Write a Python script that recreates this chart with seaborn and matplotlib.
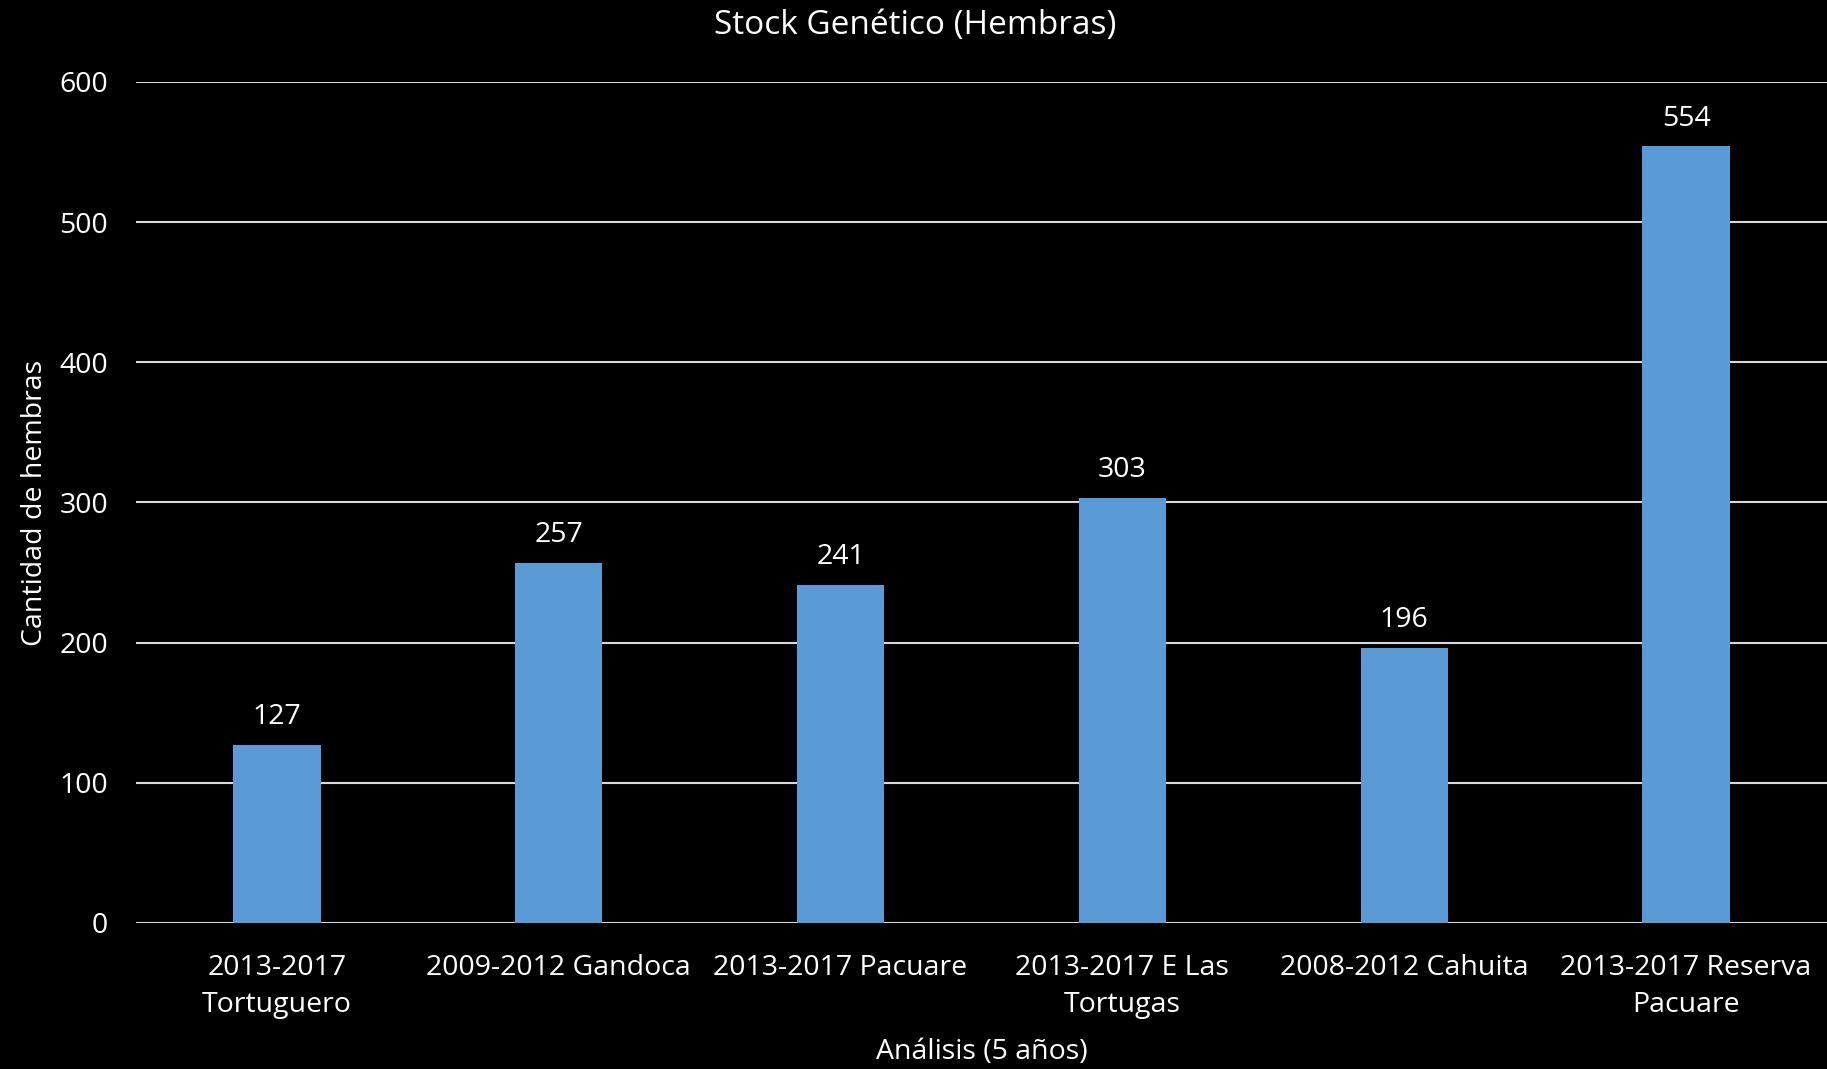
import matplotlib
matplotlib.use("Agg")
import matplotlib.pyplot as plt
import seaborn as sns
import pandas as pd

categories = ["2013-2017\nTortuguero", "2009-2012 Gandoca", "2013-2017 Pacuare",
              "2013-2017 E Las\nTortugas", "2008-2012 Cahuita", "2013-2017 Reserva\nPacuare"]
values = [127, 257, 241, 303, 196, 554]
yticks = [0, 100, 200, 300, 400, 500, 600]

sns.set_theme(style="dark")
plt.rcParams['font.family'] = ['Open Sans', 'DejaVu Sans']

df = pd.DataFrame({"cat": categories, "val": values})

fig = plt.figure(figsize=(18.27, 10.69), dpi=100, facecolor="black")
ax = fig.add_axes([0.0744, 0.1366, 0.9256, 0.7867])
ax.set_facecolor("black")

sns.barplot(data=df, x="cat", y="val", color="#5b9bd5", saturation=1, width=0.31, ax=ax)
for p in ax.patches:
    p.set_edgecolor("none")

ax.set_ylim(0, 600)
ax.set_xlim(-0.5, len(categories) - 0.5)
ax.set_yticks(yticks)
ax.yaxis.grid(True, color="#d9d9d9", linewidth=1.5)
ax.xaxis.grid(False)
ax.set_axisbelow(True)
for s in ax.spines.values():
    s.set_visible(False)
ax.tick_params(axis="both", colors="white", labelsize=20.5, length=0)
ax.tick_params(axis="y", pad=20)
ax.tick_params(axis="x", pad=22)
for lbl in ax.get_xticklabels():
    lbl.set_linespacing(1.45)

for i, v in enumerate(values):
    ax.annotate(str(v), (i, v), xytext=(0, 10), textcoords="offset points",
                ha="center", va="bottom", color="white", fontsize=20.5)

ax.set_xlabel("Análisis (5 años)", color="white", fontsize=20.5, labelpad=14)
ax.set_ylabel("Cantidad de hembras", color="white", fontsize=20.5)
ax.yaxis.set_label_coords(-0.0517, 0.5)
fig.text(0.501, 0.976, "Stock Genético (Hembras)", color="white",
         fontsize=24, ha="center", va="center")

fig.savefig("out.png", dpi=100, facecolor="black")
